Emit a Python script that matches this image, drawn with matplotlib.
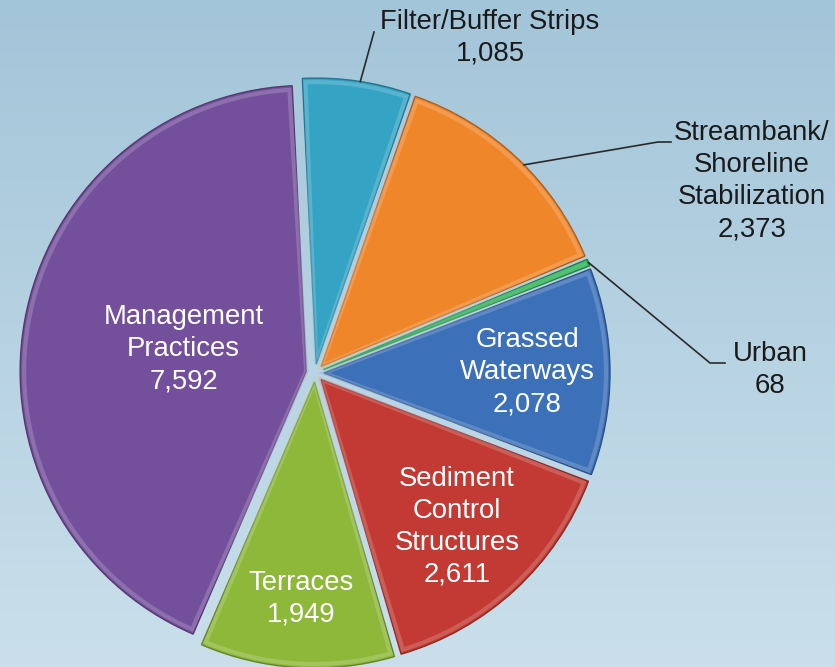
import numpy as np
import matplotlib
matplotlib.use("Agg")
import matplotlib.pyplot as plt
from matplotlib.patches import Wedge
import matplotlib.colors as mcolors

plt.rcParams['font.family'] = ['Liberation Sans', 'DejaVu Sans']

categories = ["Filter/Buffer Strips", "Streambank/\nShoreline\nStabilization", "Urban",
              "Grassed\nWaterways", "Sediment\nControl\nStructures", "Terraces",
              "Management\nPractices"]
values = [1085, 2373, 68, 2078, 2611, 1949, 7592]
value_labels = ["1,085", "2,373", "68", "2,078", "2,611", "1,949", "7,592"]
colors = ["#34A3C4", "#F0862A", "#2DB356", "#3C70B9", "#C23A33", "#8DB83A", "#74509C"]

W, H = 835, 667
fig = plt.figure(figsize=(W / 100, H / 100), dpi=100)

# background gradient
bg = fig.add_axes([0, 0, 1, 1])
bg.axis('off')
top = np.array(mcolors.to_rgb("#A3C5D9"))
bot = np.array(mcolors.to_rgb("#CADFEB"))
t = np.linspace(0, 1, 200)[:, None]
grad = (top[None, :] * (1 - t) + bot[None, :] * t)[:, None, :]
bg.imshow(grad, aspect='auto', extent=[0, 1, 0, 1])
bg.set_xlim(0, 1); bg.set_ylim(0, 1)

ax = fig.add_axes([0, 0, 1, 1])
ax.patch.set_alpha(0)
cx, cy = 315, H - 373
R = 286
explode = [9] * len(values)

wedges, _ = ax.pie(values, colors=colors, startangle=92.8, counterclock=False,
                   center=(cx, cy), radius=R, explode=explode,
                   wedgeprops=dict(linewidth=0))
ax.set_xlim(0, W)
ax.set_ylim(0, H)
ax.set_aspect('equal', adjustable='box')
ax.axis('off')

# bevel effect
for w, c in zip(wedges, colors):
    base = np.array(mcolors.to_rgb(c))
    dark = base * 0.72
    light = np.clip(base * 0.55 + 0.45, 0, 1)
    w.set_edgecolor(dark)
    w.set_linewidth(1.0)
    hl = Wedge(w.center, w.r - 4, w.theta1 + 0.6, w.theta2 - 0.6,
               facecolor='none', edgecolor=light, linewidth=3, alpha=0.4)
    ax.add_patch(hl)

fs = 19.8
ls = 1.30
# inside labels (white)
inside = {6: 0.435, 3: 0.71, 4: 0.70, 5: 0.76}
for i, rf in inside.items():
    w = wedges[i]
    th = np.deg2rad((w.theta1 + w.theta2) / 2)
    x = w.center[0] + rf * R * np.cos(th)
    y = w.center[1] + rf * R * np.sin(th)
    ax.text(x, y, categories[i] + "\n" + value_labels[i], color='white',
            fontsize=fs, ha='center', va='center', linespacing=ls)

# outside labels with leader lines
def edge_point(i, frac=0.5, r_off=0):
    w = wedges[i]
    th = np.deg2rad(w.theta1 + frac * (w.theta2 - w.theta1))
    return (w.center[0] + (w.r + r_off) * np.cos(th),
            w.center[1] + (w.r + r_off) * np.sin(th))

lc = '#2a2a2a'
# Filter/Buffer Strips (wedge theta1..theta2 goes counterclockwise)
p = edge_point(0, 0.47)
ax.plot([p[0], 374], [p[1], H - 32], color=lc, lw=1.2)
ax.text(490, H - 38, categories[0] + "\n" + value_labels[0], color='#1a1a1a',
        fontsize=fs, ha='center', va='center', linespacing=ls)

# Streambank
p = edge_point(1, 0.46)
ax.plot([p[0], 658, 671], [p[1], H - 142, H - 142], color=lc, lw=1.2)
ax.text(752, H - 181, categories[1] + "\n" + value_labels[1], color='#1a1a1a',
        fontsize=fs, ha='center', va='center', linespacing=ls)

# Urban
p = edge_point(2, 0.5)
ax.plot([p[0], 710, 725], [p[1], H - 363, H - 363], color=lc, lw=1.2)
ax.text(770, H - 370, categories[2] + "\n" + value_labels[2], color='#1a1a1a',
        fontsize=fs, ha='center', va='center', linespacing=ls)

fig.savefig("out.png", dpi=100)
